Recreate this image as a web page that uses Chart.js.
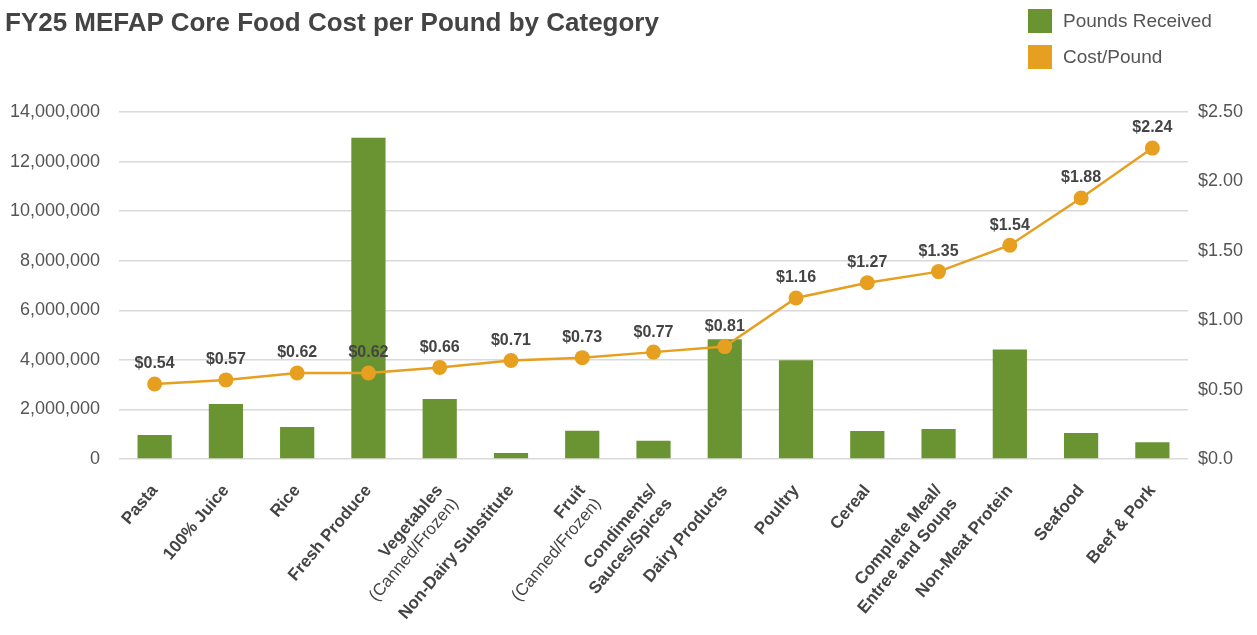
<!DOCTYPE html>
<html>
<head>
<meta charset="utf-8">
<script src="https://cdn.jsdelivr.net/npm/chart.js@4/dist/chart.umd.min.js"></script>
<style>
  html, body { margin: 0; padding: 0; background: #fff; }
  #wrap { position: relative; width: 1257px; height: 635px; overflow: hidden; font-family: "Liberation Sans", Arial, sans-serif; }
  #title { position: absolute; left: 5px; top: 7px; font-size: 26px; font-weight: bold; color: #444; white-space: nowrap; }
  .leg { position: absolute; left: 1028px; font-size: 19px; color: #555; white-space: nowrap; }
  .leg .sw { position: absolute; left: 0; top: 0; width: 24px; height: 24px; }
  .leg .tx { position: absolute; left: 35px; top: 1px; line-height: 22px; }
  #c { position: absolute; left: 0; top: 0; }
</style>
</head>
<body>
<div id="wrap">
  <canvas id="c" width="1257" height="635"></canvas>
  <div id="title">FY25 MEFAP Core Food Cost per Pound by Category</div>
  <div class="leg" style="top:9px"><div class="sw" style="background:#6A9331"></div><div class="tx">Pounds Received</div></div>
  <div class="leg" style="top:45px"><div class="sw" style="background:#E69F1F"></div><div class="tx">Cost/Pound</div></div>
</div>
<script>
const categories = [
  'Pasta', '100% Juice', 'Rice', 'Fresh Produce',
  ['Vegetables', '(Canned/Frozen)'], 'Non-Dairy Substitute',
  ['Fruit', '(Canned/Frozen)'], ['Condiments/', 'Sauces/Spices'],
  'Dairy Products', 'Poultry', 'Cereal',
  ['Complete Meal/', 'Entree and Soups'], 'Non-Meat Protein', 'Seafood', 'Beef & Pork'
];
const poundsReceived = [970000, 2220000, 1290000, 12960000, 2420000, 240000, 1140000, 740000, 4830000, 3980000, 1130000, 1210000, 4420000, 1050000, 680000];
const costPerPound = [0.54, 0.57, 0.62, 0.62, 0.66, 0.71, 0.73, 0.77, 0.81, 1.16, 1.27, 1.35, 1.54, 1.88, 2.24];
const poundsTicks = [0, 2000000, 4000000, 6000000, 8000000, 10000000, 12000000, 14000000];
const costTicks = [0, 0.5, 1.0, 1.5, 2.0, 2.5];

const GREEN = '#6A9331';
const ORANGE = '#E69F1F';
const FONT = '"Liberation Sans", Arial, sans-serif';

const pointLabels = {
  id: 'pointLabels',
  afterDatasetsDraw(chart) {
    const ctx = chart.ctx;
    const meta = chart.getDatasetMeta(0);
    ctx.save();
    ctx.font = 'bold 16px ' + FONT;
    ctx.fillStyle = '#444';
    ctx.textAlign = 'center';
    ctx.textBaseline = 'middle';
    meta.data.forEach((pt, i) => {
      ctx.fillText('$' + costPerPound[i].toFixed(2), pt.x, pt.y - 20);
    });
    ctx.restore();
  }
};

// Category labels drawn along the x scale (rotated), second "(…)" lines in regular weight
const xLabels = {
  id: 'xLabels',
  afterDraw(chart) {
    const scale = chart.scales.x;
    const ctx = chart.ctx;
    const rot = 50 * Math.PI / 180;
    const size = 17, lh = size * 1.2;
    ctx.save();
    ctx.fillStyle = '#444';
    ctx.textAlign = 'right';
    ctx.textBaseline = 'middle';
    categories.forEach((lab, i) => {
      const lines = Array.isArray(lab) ? lab : [lab];
      const x = scale.getPixelForValue(i) - (lh / 2) * Math.sin(rot);
      const y = scale.top + 22;
      ctx.save();
      ctx.translate(x, y);
      ctx.rotate(-rot);
      lines.forEach((ln, k) => {
        ctx.font = (ln.startsWith('(') ? '' : 'bold ') + size + 'px ' + FONT;
        ctx.fillText(ln, 0, lh / 2 + k * lh);
      });
      ctx.restore();
    });
    ctx.restore();
  }
};

new Chart(document.getElementById('c'), {
  data: {
    labels: categories,
    datasets: [
      {
        type: 'line',
        label: 'Cost/Pound',
        data: costPerPound,
        yAxisID: 'y1',
        borderColor: ORANGE,
        backgroundColor: ORANGE,
        borderWidth: 2.5,
        pointRadius: 7.5,
        pointHoverRadius: 7.5,
        pointBackgroundColor: ORANGE,
        pointBorderWidth: 0,
        tension: 0,
        order: 1
      },
      {
        type: 'bar',
        label: 'Pounds Received',
        data: poundsReceived,
        yAxisID: 'y',
        backgroundColor: GREEN,
        categoryPercentage: 1.0,
        barPercentage: 0.48,
        order: 2
      }
    ]
  },
  options: {
    responsive: false,
    animation: false,
    layout: { padding: { top: 112, left: 0, right: 0, bottom: 0 } },
    plugins: { legend: { display: false }, title: { display: false }, tooltip: { enabled: false } },
    scales: {
      x: {
        grid: { display: false, drawTicks: false },
        border: { display: false },
        ticks: { display: false, autoSkip: false },
        afterFit(scale) { scale.height = 176; }
      },
      y: {
        position: 'left',
        min: 0,
        max: 14000000,
        afterBuildTicks(scale) { scale.ticks = poundsTicks.map(v => ({ value: v })); },
        grid: { color: '#d9d9d9', lineWidth: 1.5, drawTicks: false },
        border: { display: false },
        ticks: {
          padding: 19,
          color: '#555',
          font: { family: FONT, size: 18 },
          callback: v => v.toLocaleString('en-US')
        },
        afterFit(scale) { scale.width = 119; }
      },
      y1: {
        position: 'right',
        min: 0,
        max: 2.5,
        afterBuildTicks(scale) { scale.ticks = costTicks.map(v => ({ value: v })); },
        grid: { display: false, drawTicks: false },
        border: { display: false },
        ticks: {
          padding: 10,
          color: '#555',
          font: { family: FONT, size: 18 },
          callback: v => v === 0 ? '$0.0' : '$' + Number(v).toFixed(2)
        },
        afterFit(scale) { scale.width = 69; }
      }
    }
  },
  plugins: [pointLabels, xLabels]
});
</script>
</body>
</html>
